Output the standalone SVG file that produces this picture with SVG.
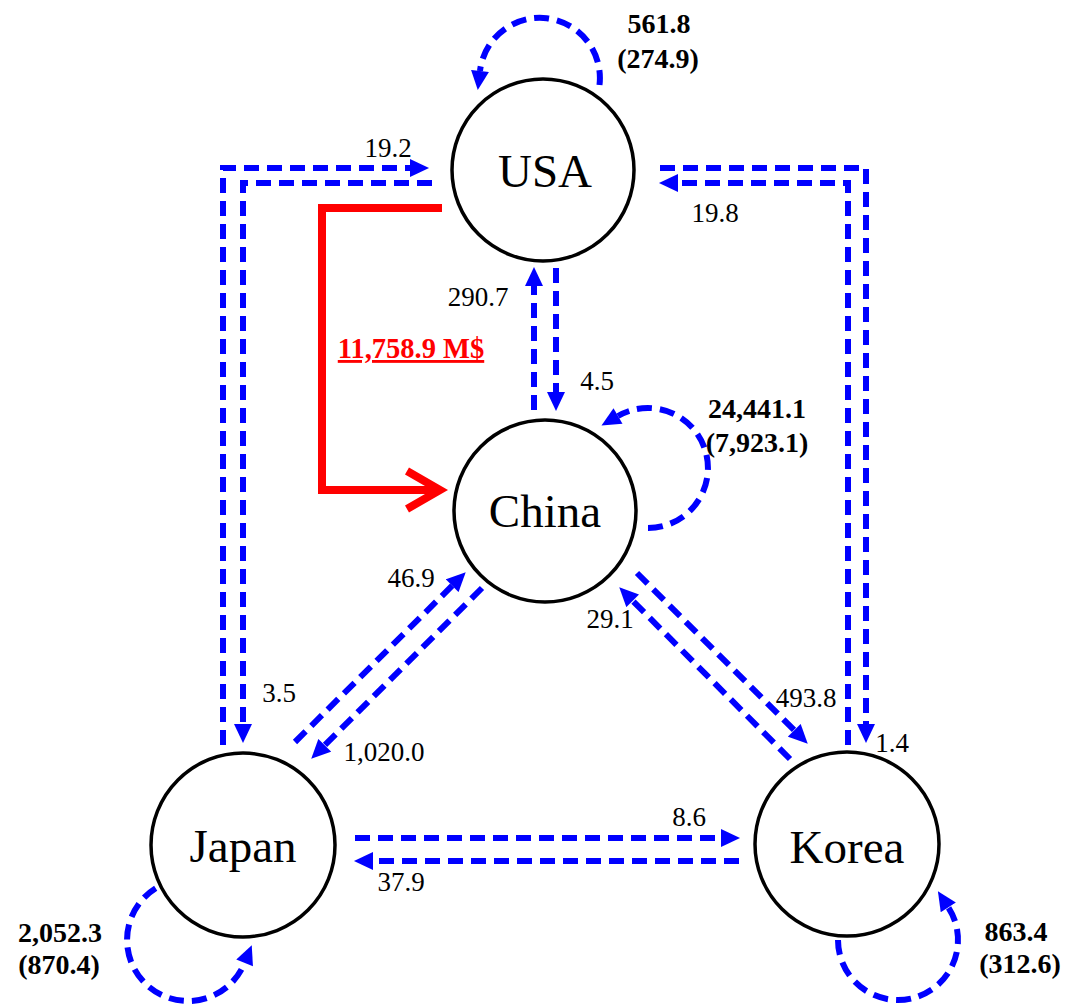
<svg xmlns="http://www.w3.org/2000/svg" width="1066" height="1004" viewBox="0 0 1066 1004">
<style>
.node{fill:#fff;stroke:#000;stroke-width:3.5}
text{font-family:'Liberation Serif','Times New Roman',Tinos,'DejaVu Serif',serif}
.nl{font-size:47px;text-anchor:middle;fill:#000}
.e{fill:none;stroke:#0000ff;stroke-width:6;stroke-dasharray:15 8;marker-end:url(#ah)}
.lb{font-size:27px;text-anchor:middle;fill:#000}
.bl{font-size:28px;font-weight:bold;text-anchor:middle;fill:#000}
.rt{font-size:28.5px;font-weight:bold;text-anchor:middle;fill:#ff0000;text-decoration:underline}
.red{fill:none;stroke:#ff0000;stroke-width:8}
</style>
<defs>
<marker id="ah" markerUnits="userSpaceOnUse" markerWidth="20" markerHeight="18" refX="0" refY="8.5" orient="auto" viewBox="0 0 18 17">
<path d="M0,0 L18,8.5 L0,17 z" fill="#0000ff"/>
</marker>
</defs>
<g id="connectors">
<path class="e" d="M223,745 V168 H410"/>
<path class="e" d="M432,183 H243 V724"/>
<path class="e" d="M660,168 H866 V724"/>
<path class="e" d="M848,745 V183 H678"/>
<path class="e" d="M534,410 V286"/>
<path class="e" d="M556,268 V392"/>
<path class="e" d="M295,742 L452.2,585.7"/>
<path class="e" d="M482,588 L324.7,745.3"/>
<path class="e" d="M637,573 L794.3,730.3"/>
<path class="e" d="M790,759 L632.7,600.8"/>
<path class="e" d="M355,838 H721"/>
<path class="e" d="M739,861 H373"/>
<path class="e" d="M599.5,85 A60,60 0 1 0 480,71"/>
<path class="e" d="M648,528 A60,60 0 1 0 618,416"/>
<path class="e" d="M155.7,888.3 A61,61 0 1 0 244.6,962.9"/>
<path class="e" d="M838,940 A60,60 0 1 0 948.3,907.3"/>
<path class="red" d="M442,208 H322 V490 H438"/>
<path class="red" d="M407,471 L440,490 L407,509" stroke-linejoin="miter"/>
<text class="lb" x="388" y="157">19.2</text>
<text class="lb" x="279" y="702">3.5</text>
<text class="lb" x="715" y="222">19.8</text>
<text class="lb" x="892" y="752">1.4</text>
<text class="lb" x="478" y="306">290.7</text>
<text class="lb" x="597" y="390">4.5</text>
<text class="lb" x="411" y="587">46.9</text>
<text class="lb" x="384" y="761">1,020.0</text>
<text class="lb" x="610" y="628">29.1</text>
<text class="lb" x="806" y="707">493.8</text>
<text class="lb" x="689" y="826">8.6</text>
<text class="lb" x="401" y="891">37.9</text>
<text class="bl" x="659" y="33">561.8</text>
<text class="bl" x="658" y="68">(274.9)</text>
<text class="bl" x="757" y="418">24,441.1</text>
<text class="bl" x="757" y="452">(7,923.1)</text>
<text class="bl" x="60" y="942">2,052.3</text>
<text class="bl" x="59" y="974">(870.4)</text>
<text class="bl" x="1016" y="941">863.4</text>
<text class="bl" x="1020" y="973">(312.6)</text>
<text class="rt" x="411" y="358">11,758.9 M$</text>
</g>
<g id="usa"><circle class="node" cx="543" cy="170" r="91"/><text class="nl" x="545" y="187">USA</text></g>
<g id="china"><circle class="node" cx="545" cy="511" r="91"/><text class="nl" x="545" y="527">China</text></g>
<g id="japan"><circle class="node" cx="243" cy="845" r="92"/><text class="nl" x="243" y="862">Japan</text></g>
<g id="korea"><circle class="node" cx="847" cy="844" r="92"/><text class="nl" x="847" y="863">Korea</text></g>
</svg>
